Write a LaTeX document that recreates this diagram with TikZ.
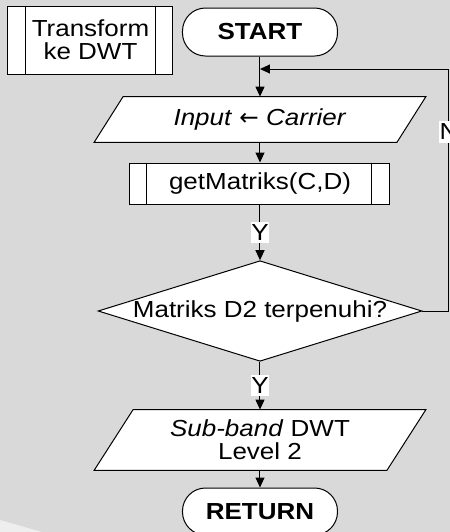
\documentclass[tikz,border=0pt]{standalone}
\usepackage{fontspec}
\setmainfont{Liberation Sans}[FakeStretch=1.12]
\newfontfamily\arrowfont{DejaVu Sans}
\usetikzlibrary{shapes.geometric,arrows.meta,backgrounds}
\definecolor{paper}{RGB}{217,217,217}
\definecolor{paperlight}{RGB}{238,238,238}
\begin{document}
\begin{tikzpicture}[x=0.5pt,y=-0.5pt,
  txt/.style={font=\fontsize{11.6}{11.4}\selectfont, align=center},
  box/.style={txt, draw, fill=white, line width=0.5pt, inner sep=0pt},
  term/.style={box, rounded corners=11.5pt, minimum width=77.5pt,
    font=\fontsize{11.6}{11.4}\selectfont\bfseries},
  proc/.style={box, rectangle},
  iotext/.style={txt, inner sep=0pt},
  dec/.style={box, diamond, aspect=3.22, minimum width=161pt, minimum height=50pt},
  flow/.style={line width=0.5pt, -{Triangle[length=5pt,width=4.5pt]}},
  lbl/.style={txt, fill=white, inner sep=0.4pt, minimum height=10.8pt},
]
\useasboundingbox (0,0) rectangle (450,532);
\clip (0,0) rectangle (450,532);

% sub-process box, top left
\node[proc, minimum width=82.5pt, minimum height=34pt] (trans) at (90.5,40) {Transform\\ke DWT};
\draw[line width=0.5pt] ([xshift=9pt]trans.north west) -- ([xshift=9pt]trans.south west)
                        ([xshift=-9pt]trans.north east) -- ([xshift=-9pt]trans.south east);

% main flow
\node[term, minimum height=24pt] (start) at (260,32) {START};
\node[iotext, minimum width=151pt, minimum height=22.5pt] (inp) at (260,119.5)
  {\textit{Input} {\arrowfont ←} \textit{Carrier}};
\node[proc, minimum width=130pt, minimum height=20.5pt] (gm) at (260,183.5) {getMatriks(C,D)};
\draw[line width=0.5pt] ([xshift=8.5pt]gm.north west) -- ([xshift=8.5pt]gm.south west)
                        ([xshift=-9.5pt]gm.north east) -- ([xshift=-9.5pt]gm.south east);
\node[dec] (dec) at (260,311) {Matriks D2 terpenuhi?};
\node[iotext, minimum width=146pt, minimum height=30pt] (out) at (260,440)
  {\textit{Sub-band} DWT\\Level 2};
\node[term, minimum height=23.5pt] (ret) at (260,511.5) {RETURN};

% parallelogram outlines behind the input/output texts
\begin{scope}[on background layer]
  \fill[paper] (0,0) rectangle (450,532);
  \fill[paperlight] (0,520) -- (42,532) -- (0,532) -- cycle;
  \draw[line width=0.5pt, fill=white]
    ([xshift=7.25pt]inp.north west) -- ([xshift=7.25pt]inp.north east) --
    ([xshift=-7.25pt]inp.south east) -- ([xshift=-7.25pt]inp.south west) -- cycle;
  \draw[line width=0.5pt, fill=white]
    ([xshift=9.75pt]out.north west) -- ([xshift=9.75pt]out.north east) --
    ([xshift=-9.75pt]out.south east) -- ([xshift=-9.75pt]out.south west) -- cycle;
\end{scope}

% loop-back route
\coordinate (loopR) at (449,311);
\coordinate (loopT) at (449,69);
\coordinate (join) at (260,69);

% connectors
\draw[flow] (start.south) -- (inp.north);
\draw[flow] (inp.south) -- (gm.north);
\draw[flow] (gm.south) -- node[lbl] {Y} (dec.north);
\draw[flow] (dec.south) -- node[lbl] {Y} (out.north);
\draw[flow] (out.south) -- (ret.north);
\draw[flow] (dec.east) -- (loopR) -- node[lbl, pos=0.74] {N} (loopT) -- (join);
\end{tikzpicture}
\end{document}
